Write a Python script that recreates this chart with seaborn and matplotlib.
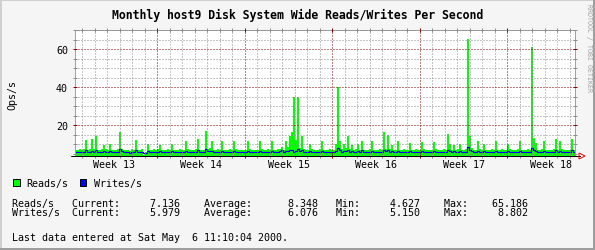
import numpy as np
import pandas as pd
import matplotlib
matplotlib.use("Agg")
import matplotlib.pyplot as plt
import seaborn as sns
from matplotlib.ticker import FixedLocator, MultipleLocator, NullFormatter
from matplotlib.patches import Rectangle, Polygon
from matplotlib.lines import Line2D

# ---------------- data ----------------
reads = [
    7.2, 7.0, 7.3, 6.9, 7.4, 12.4, 7.1, 7.3, 12.8, 7.5,
    14.5, 7.2, 6.9, 7.3, 9.8, 7.4, 7.0, 10.2, 7.2, 6.8,
    7.1, 7.4, 16.3, 7.6, 7.2, 6.9, 7.1, 6.7, 7.3, 7.0,
    12.4, 7.2, 6.9, 7.3, 4.6, 5.8, 10.2, 7.2, 7.0, 7.4,
    6.9, 7.3, 9.8, 7.1, 7.2, 6.8, 7.3, 7.0, 10.2, 7.2,
    7.0, 6.9, 7.3, 7.1, 7.0, 11.5, 7.4, 7.1, 6.9, 7.2,
    7.3, 12.8, 7.1, 7.2, 6.9, 16.8, 7.5, 8.2, 11.9, 7.2,
    7.0, 7.3, 6.9, 11.9, 7.2, 7.1, 6.8, 7.3, 7.0, 11.9,
    7.4, 7.1, 6.9, 7.2, 7.0, 6.8, 11.9, 7.3, 7.1, 6.9,
    7.2, 7.0, 11.9, 7.4, 7.1, 6.8, 7.3, 7.0, 11.9, 7.2,
    6.9, 7.3, 7.5, 8.6, 7.2, 11.9, 8.4, 14.5, 16.3, 35.0,
    12.2, 35.0, 8.1, 14.2, 7.4, 7.1, 6.9, 10.1, 7.3, 7.0,
    7.2, 6.8, 7.4, 11.9, 7.1, 7.0, 6.9, 7.3, 7.2, 7.0,
    10.1, 40.0, 12.0, 7.5, 10.0, 8.2, 14.2, 7.3, 9.5, 7.0,
    7.4, 10.0, 7.1, 12.0, 6.9, 7.2, 7.0, 7.3, 11.9, 7.1,
    6.9, 7.2, 7.4, 7.0, 16.3, 7.6, 14.8, 7.3, 9.8, 7.1,
    6.9, 11.9, 7.2, 7.0, 7.3, 6.8, 7.1, 10.8, 7.2, 7.0,
    7.3, 6.9, 7.1, 11.2, 7.4, 7.0, 6.8, 7.2, 7.1, 11.0,
    7.3, 6.9, 7.2, 7.0, 7.4, 7.1, 15.5, 10.3, 7.2, 9.8,
    7.0, 7.3, 10.0, 7.1, 6.9, 7.4, 65.2, 14.5, 8.3, 7.2,
    7.0, 11.7, 7.3, 7.1, 10.0, 6.9, 7.2, 7.0, 7.4, 7.1,
    11.7, 7.2, 6.9, 7.3, 7.0, 7.1, 10.0, 7.4, 7.2, 6.9,
    7.1, 7.3, 11.7, 7.0, 7.2, 6.8, 7.4, 7.1, 61.5, 13.5,
    10.8, 7.2, 7.0, 7.3, 11.7, 7.1, 6.9, 7.2, 7.0, 7.3,
    12.8, 7.1, 11.7, 7.4, 7.0, 6.9, 7.2, 7.1, 12.8, 7.1,
]
writes = [
    6.1, 5.9, 6.0, 5.8, 6.2, 6.9, 6.0, 5.9, 6.6, 6.1,
    7.2, 6.0, 5.7, 6.1, 6.5, 5.9, 6.0, 6.7, 6.1, 5.8,
    6.0, 6.2, 7.4, 6.3, 6.0, 5.8, 6.1, 5.6, 6.0, 5.9,
    6.8, 6.0, 5.8, 6.1, 5.2, 5.5, 6.6, 6.0, 5.9, 6.2,
    5.8, 6.1, 6.5, 6.0, 6.1, 5.7, 6.0, 5.9, 6.6, 6.0,
    5.9, 5.8, 6.1, 6.0, 5.9, 6.7, 6.2, 6.0, 5.8, 6.0,
    6.1, 6.9, 6.0, 6.1, 5.8, 7.5, 6.3, 6.4, 6.7, 6.0,
    5.9, 6.1, 5.8, 6.6, 6.0, 6.0, 5.7, 6.1, 5.9, 6.6,
    6.2, 6.0, 5.8, 6.1, 5.9, 5.7, 6.6, 6.1, 6.0, 5.8,
    6.0, 5.9, 6.7, 6.2, 6.0, 5.7, 6.1, 5.9, 6.6, 6.0,
    5.8, 6.1, 6.3, 6.8, 6.0, 6.7, 6.5, 7.2, 7.0, 6.2,
    6.6, 7.4, 6.3, 6.9, 6.1, 6.0, 5.8, 6.6, 6.1, 5.9,
    6.0, 5.7, 6.2, 6.7, 6.0, 5.9, 5.8, 6.1, 6.0, 5.9,
    6.5, 7.8, 6.9, 6.2, 6.5, 6.3, 7.0, 6.1, 6.4, 5.9,
    6.2, 6.5, 6.0, 6.8, 5.8, 6.0, 5.9, 6.1, 6.6, 6.0,
    5.8, 6.1, 6.2, 5.9, 7.2, 6.3, 7.0, 6.1, 6.4, 6.0,
    5.8, 6.7, 6.0, 5.9, 6.1, 5.7, 6.0, 6.5, 6.1, 5.9,
    6.1, 5.8, 6.0, 6.6, 6.2, 5.9, 5.7, 6.0, 6.0, 6.6,
    6.1, 5.8, 6.0, 5.9, 6.2, 6.0, 7.1, 6.5, 6.0, 6.4,
    5.9, 6.1, 6.5, 6.0, 5.8, 6.2, 8.8, 7.0, 6.3, 6.0,
    5.9, 6.7, 6.1, 6.0, 6.5, 5.8, 6.0, 5.9, 6.2, 6.0,
    6.7, 6.0, 5.8, 6.1, 5.9, 6.0, 6.5, 6.2, 6.0, 5.8,
    6.0, 6.1, 6.7, 5.9, 6.0, 5.7, 6.2, 6.0, 8.1, 7.0,
    6.5, 6.0, 5.9, 6.1, 6.7, 6.0, 5.8, 6.0, 5.9, 6.1,
    6.9, 6.0, 6.7, 6.2, 5.9, 5.8, 6.0, 6.0, 6.9, 6.0,
]
# time axis in days since Mon 27 Mar 2000 00:00
start_day = 0.416
step_day = 0.16
week_starts = [7, 14, 21, 28, 35]
week_labels = ["Week 13", "Week 14", "Week 15", "Week 16", "Week 17", "Week 18"]
week_label_pos = [3.5, 10.5, 17.5, 24.5, 31.5, 38.5]
y_major = [20, 40, 60]

series_names = ["Reads/s", "Writes/s"]
stat_current = ["7.136", "5.979"]
stat_average = ["8.348", "6.076"]
stat_min = ["4.627", "5.150"]
stat_max = ["65.186", "8.802"]

title = "Monthly host9 Disk System Wide Reads/Writes Per Second"
footer = "Last data entered at Sat May  6 11:10:04 2000."
credit = "RRDTOOL / TOBI OETIKER"

# ---------------- style ----------------
sns.set_style("white")
plt.rcParams["font.family"] = ["DejaVu Sans Mono", "DejaVu Sans"]

BACK = "#F5F5F5"
GREEN = "#00FF00"
BLUE = "#0000FF"
MINOR = "#8C8C8C"
MAJOR = "#8B0000"
W, H = 595, 251
PX = 72.0 / 100.0  # points per pixel

fig = plt.figure(figsize=(W / 100, H / 100), dpi=100, facecolor=BACK)

# 3D-like frame
def frect(x, y, w, h, color):
    fig.add_artist(Rectangle((x / W, 1 - (y + h) / H), w / W, h / H,
                             transform=fig.transFigure, facecolor=color,
                             edgecolor="none", zorder=0))

frect(0, 0, W, 2, "#CFCFCF")
frect(0, 0, 2, H, "#CFCFCF")
frect(0, H - 2, W, 2, "#9E9E9E")
frect(W - 2, 0, 2, H, "#9E9E9E")

ax = fig.add_axes([75 / W, 1 - 157 / H, 500 / W, 126 / H])
ax.set_facecolor("white")

n = len(reads)
t = start_day + step_day * np.arange(n + 1)
df = pd.DataFrame({
    "t": t,
    "reads": reads + [reads[-1]],
    "writes": writes + [writes[-1]],
})

ax.fill_between(df["t"], 0, df["reads"], step="post", color=GREEN,
                linewidth=0, zorder=1)
sns.lineplot(data=df, x="t", y="writes", ax=ax, color=BLUE, linewidth=1.0 * PX * 1.2,
             drawstyle="steps-post", estimator=None, zorder=2)

ax.set_xlim(start_day, start_day + step_day * n)
ax.set_ylim(3.84, 70.2)
ax.set_xlabel("")
ax.set_ylabel("")

ax.xaxis.set_major_locator(FixedLocator(week_starts))
ax.xaxis.set_minor_locator(FixedLocator(list(range(1, 41))))
ax.xaxis.set_major_formatter(NullFormatter())
ax.yaxis.set_major_locator(FixedLocator(y_major))
ax.yaxis.set_minor_locator(MultipleLocator(5))

ax.set_axisbelow(False)
ax.grid(which="minor", color=MINOR, linestyle=(0, (1, 2)), linewidth=PX)
ax.grid(which="major", color=MAJOR, linestyle=(0, (1, 2)), linewidth=PX)

ax.tick_params(which="both", direction="inout", top=True, right=True,
               bottom=True, left=True, width=PX)
ax.tick_params(which="major", color=MAJOR, length=5 * PX)
ax.tick_params(which="minor", color=MINOR, length=4 * PX)
ax.tick_params(axis="y", which="major", labelsize=7.2, pad=4.5 * PX,
               labelcolor="black", labelright=False)
ax.tick_params(axis="x", labelbottom=False)

for s in ax.spines.values():
    s.set_color("#A0A0A0")
    s.set_linewidth(PX)

# x axis line with arrow
ybase = 1 - 157 / H
fig.add_artist(Line2D([71 / W, 580 / W], [ybase, ybase], color="black",
                      linewidth=PX, transform=fig.transFigure, zorder=5))
fig.add_artist(Polygon([(579 / W, 1 - 154 / H), (579 / W, 1 - 160 / H),
                        (585 / W, ybase)], closed=True, fill=False,
                       edgecolor="red", linewidth=PX,
                       transform=fig.transFigure, zorder=6))

# week labels
for pos, lab in zip(week_label_pos, week_labels):
    ax.text(pos, (157 - 165.5) / 126, lab, transform=ax.get_xaxis_transform(),
            ha="center", va="center", fontsize=7.2, color="black", clip_on=False)

# title, y label, credit
fig.text(298 / W, 1 - 15 / H, title, ha="center", va="center",
         fontsize=8.3, fontweight="bold", color="black")
fig.text(12.5 / W, 1 - 95 / H, "Ops/s", rotation=90, ha="center", va="center",
         fontsize=7.2, color="black")
fig.text(588.5 / W, 1 - 48 / H, credit, rotation=270, ha="center", va="center",
         fontsize=4.8, color="#A0A0A0")

# legend
for x0, col, name, xt in [(12.5, GREEN, series_names[0], 26.5),
                          (79.5, BLUE, series_names[1], 94)]:
    fig.add_artist(Rectangle((x0 / W, 1 - 187 / H), 7 / W, 7 / H,
                             transform=fig.transFigure, facecolor=col,
                             edgecolor="black", linewidth=PX))
    fig.text(xt / W, 1 - 184 / H, name, ha="left", va="center",
             fontsize=7.2, color="black")

# statistics rows
row_y = [204.3, 213.5]
for i in range(2):
    line = (f"{series_names[i]:<10}Current:{stat_current[i]:>10}    "
            f"Average:{stat_average[i]:>11}   Min:{stat_min[i]:>10}    "
            f"Max:{stat_max[i]:>10}")
    fig.text(12.3 / W, 1 - row_y[i] / H, line, ha="left", va="center",
             fontsize=7.2, color="black")

fig.text(12.3 / W, 1 - 237.7 / H, footer, ha="left", va="center",
         fontsize=7.2, color="black")

fig.savefig("out.png", dpi=100, facecolor=BACK)
